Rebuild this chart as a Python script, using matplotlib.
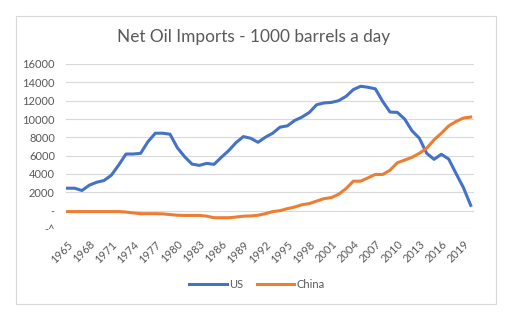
import matplotlib.pyplot as plt
from matplotlib.patches import Rectangle

plt.rcParams['font.family'] = ['Lato', 'DejaVu Sans']

years = list(range(1965, 2021))

# net imports, thousand barrels per day
us = [2450, 2450, 2200, 2780, 3100, 3290, 3870, 4970, 6180, 6180,
      6260, 7530, 8450, 8450, 8340, 6870, 5880, 5080, 4940, 5160,
      5050, 5820, 6550, 7420, 8080, 7900, 7460, 8010, 8450, 9110,
      9250, 9840, 10210, 10720, 11560, 11750, 11810, 12000, 12470, 13210,
      13570, 13460, 13290, 11920, 10760, 10720, 9990, 8710, 7900, 6260,
      5600, 6150, 5630, 4060, 2530, 580]
china = [-100, -100, -100, -100, -100, -100, -100, -100, -150, -250,
         -330, -330, -330, -350, -420, -500, -520, -520, -520, -600,
         -770, -770, -770, -700, -600, -580, -500, -330, -100, 0,
         220, 400, 650, 770, 1050, 1310, 1430, 1790, 2410, 3220,
         3220, 3580, 3950, 3950, 4420, 5230, 5520, 5820, 6260, 6810,
         7720, 8450, 9250, 9730, 10100, 10210]

yticks = list(range(-2000, 16001, 2000))
ylabels = ['-^', '-'] + [str(v) for v in yticks[2:]]
xticks = list(range(1965, 2020, 3))

txt = '#595959'
grid = '#d9d9d9'

fig = plt.figure(figsize=(5.08, 3.22), dpi=100)
fig.patches.append(Rectangle((15.5 / 508, 1 - 304 / 322), 480 / 508, 288 / 322,
                             transform=fig.transFigure, fill=False,
                             edgecolor=grid, linewidth=0.8))

ax = fig.add_axes([66 / 508, 1 - 229 / 322, 408 / 508, 165 / 322])
ax.plot(years, us, color='#4472C4', linewidth=2.2, label='US')
ax.plot(years, china, color='#ED7D31', linewidth=2.2, label='China')

ax.set_xlim(1964.82, 2020.45)
ax.set_ylim(-2000, 16000)
ax.set_yticks(yticks)
ax.set_yticklabels(ylabels)
ax.set_xticks(xticks)
ax.set_xticklabels([str(x) for x in xticks], rotation=45, ha='right',
                   rotation_mode='anchor')
ax.tick_params(length=0, colors=txt, labelsize=8)
ax.tick_params(axis='y', pad=8)
ax.tick_params(axis='x', pad=7)
ax.grid(axis='y', color=grid, linewidth=0.8)
ax.set_axisbelow(True)
for s in ax.spines.values():
    s.set_visible(False)

fig.text(254 / 508, 1 - 37 / 322, 'Net Oil Imports - 1000 barrels a day',
         ha='center', va='center', fontsize=12.4, color=txt)

fig.legend(loc='center', bbox_to_anchor=(257 / 508, 1 - 284 / 322), ncol=2,
           frameon=False, fontsize=8, labelcolor=txt, handlelength=3.4,
           handletextpad=0.2, columnspacing=1.2)

fig.savefig('out.png', dpi=100)
